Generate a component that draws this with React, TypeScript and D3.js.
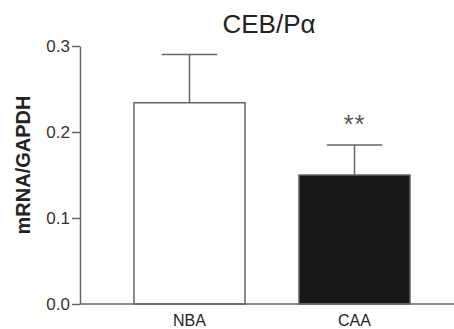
import React, { useEffect, useRef } from 'react'
import * as d3 from 'd3'

const categories = ['NBA', 'CAA']
const means = [0.234, 0.15]
const errors = [0.056, 0.035]
const fills = ['#ffffff', '#1a1816']
const yTicks = [0, 0.1, 0.2, 0.3]
const stars = ['', '**']

const W = 454
const H = 329

export default function App() {
  const ref = useRef<SVGSVGElement>(null)

  useEffect(() => {
    const svg = d3.select(ref.current)
    svg.selectAll('*').remove()

    const font = 'Arial, "Liberation Sans", sans-serif'
    const stroke = '#666'

    const x = d3
      .scaleBand()
      .domain(categories)
      .range([107, 437])
      .paddingInner(0.327)
      .paddingOuter(0.1635)

    const y = d3.scaleLinear().domain([0, 0.3]).range([304, 46])

    const data = categories.map((c, i) => ({ c, m: means[i], e: errors[i], f: fills[i], s: stars[i] }))

    // bars
    svg
      .append('g')
      .selectAll('rect')
      .data(data)
      .join('rect')
      .attr('x', d => x(d.c)!)
      .attr('y', d => y(d.m))
      .attr('width', x.bandwidth())
      .attr('height', d => y(0) - y(d.m))
      .attr('fill', d => d.f)
      .attr('stroke', stroke)
      .attr('stroke-width', 1.5)

    // error bars (upper only)
    const eb = svg.append('g').attr('stroke', stroke).attr('stroke-width', 1.5)
    data.forEach(d => {
      const cx = x(d.c)! + x.bandwidth() / 2
      const half = x.bandwidth() / 4
      eb.append('line').attr('x1', cx).attr('x2', cx).attr('y1', y(d.m)).attr('y2', y(d.m + d.e))
      eb.append('line')
        .attr('x1', cx - half)
        .attr('x2', cx + half)
        .attr('y1', y(d.m + d.e))
        .attr('y2', y(d.m + d.e))
    })

    // significance stars
    svg
      .append('g')
      .selectAll('text')
      .data(data.filter(d => d.s))
      .join('text')
      .attr('x', d => x(d.c)! + x.bandwidth() / 2)
      .attr('y', d => y(d.m + d.e) - 12)
      .attr('text-anchor', 'middle')
      .attr('font-family', font)
      .attr('font-size', 26)
      .attr('letter-spacing', 1)
      .attr('fill', '#555')
      .text(d => d.s)

    // y axis
    const yAxis = svg
      .append('g')
      .attr('transform', 'translate(80,0)')
      .call(
        d3
          .axisLeft(y)
          .tickValues(yTicks)
          .tickFormat(d3.format('.1f'))
          .tickSize(8)
          .tickSizeOuter(0)
      )
    yAxis.select('.domain').attr('stroke', stroke).attr('stroke-width', 1.5)
    yAxis.selectAll('.tick line').attr('stroke', stroke).attr('stroke-width', 1.5)
    yAxis
      .selectAll('.tick text')
      .attr('font-family', font)
      .attr('font-size', 17)
      .attr('fill', '#333')
      .attr('x', -10)

    // x axis baseline
    svg
      .append('line')
      .attr('x1', 80)
      .attr('x2', W)
      .attr('y1', y(0))
      .attr('y2', y(0))
      .attr('stroke', stroke)
      .attr('stroke-width', 1.5)

    svg
      .append('g')
      .selectAll('text')
      .data(categories)
      .join('text')
      .attr('x', d => x(d)! + x.bandwidth() / 2)
      .attr('y', 326)
      .attr('text-anchor', 'middle')
      .attr('font-family', font)
      .attr('font-size', 16)
      .attr('fill', '#222')
      .text(d => d)

    // y label
    svg
      .append('text')
      .attr('transform', 'translate(30,165) rotate(-90)')
      .attr('text-anchor', 'middle')
      .attr('font-family', font)
      .attr('font-size', 20)
      .attr('font-weight', 'bold')
      .attr('fill', '#222')
      .text('mRNA/GAPDH')

    // title
    svg
      .append('text')
      .attr('x', 269)
      .attr('y', 33)
      .attr('text-anchor', 'middle')
      .attr('font-family', font)
      .attr('font-size', 26)
      .attr('fill', '#222')
      .text('CEB/Pα')
  }, [])

  return (
    <svg
      ref={ref}
      width={W}
      height={H}
      style={{ position: 'absolute', left: 0, top: 0, background: '#fff' }}
    />
  )
}
